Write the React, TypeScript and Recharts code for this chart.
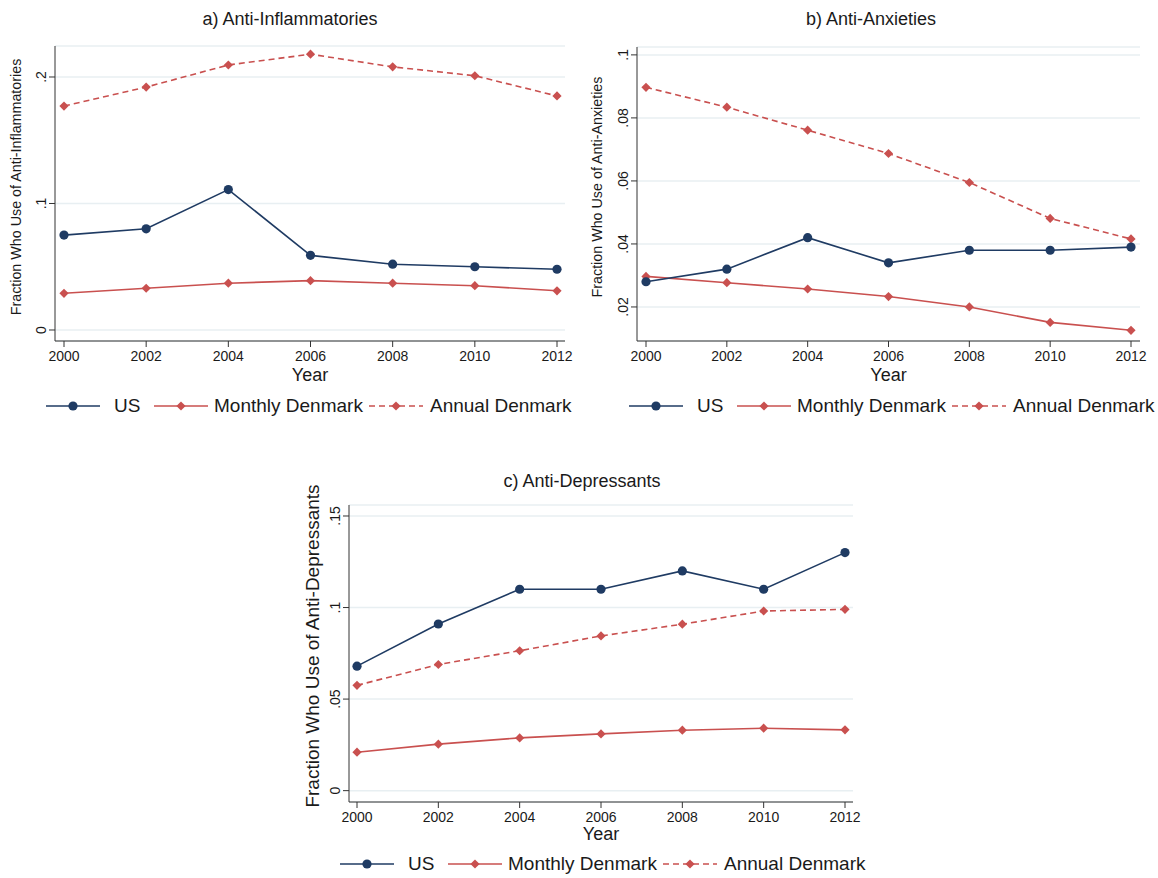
import React from "react";
import { CartesianGrid, Line, LineChart, XAxis, YAxis } from "recharts";

const years = [2000, 2002, 2004, 2006, 2008, 2010, 2012];
const seriesNames = ["US", "Monthly Denmark", "Annual Denmark"];

// a) anti-inflammatories
const inflamUS = [0.075, 0.08, 0.111, 0.059, 0.052, 0.05, 0.048];
const inflamMonthly = [0.029, 0.033, 0.037, 0.039, 0.037, 0.035, 0.031];
const inflamAnnual = [0.177, 0.192, 0.2095, 0.218, 0.208, 0.201, 0.185];

// b) anti-anxieties
const anxUS = [0.028, 0.032, 0.042, 0.034, 0.038, 0.038, 0.039];
const anxMonthly = [0.0297, 0.0277, 0.0257, 0.0233, 0.02, 0.0151, 0.0126];
const anxAnnual = [0.0897, 0.0834, 0.0761, 0.0687, 0.0595, 0.0481, 0.0416];

// c) anti-depressants
const depUS = [0.068, 0.091, 0.11, 0.11, 0.12, 0.11, 0.13];
const depMonthly = [0.021, 0.0254, 0.0288, 0.031, 0.033, 0.0341, 0.0332];
const depAnnual = [0.0575, 0.0689, 0.0764, 0.0845, 0.0909, 0.0981, 0.099];

const inflamTicks = [0, 0.1, 0.2];
const anxTicks = [0.02, 0.04, 0.06, 0.08, 0.1];
const depTicks = [0, 0.05, 0.1, 0.15];

const NAVY = "#1f3b63";
const RED = "#c9504f";
const FONT = "'Liberation Sans', Arial, sans-serif";
const TEXT = "#1a1a1a";

const makeRows = (us: number[], monthly: number[], annual: number[]) =>
  years.map((year, i) => ({ year, us: us[i], monthly: monthly[i], annual: annual[i] }));

const fmt = (v: number) => (v === 0 ? "0" : String(v).replace(/^0\./, "."));

const RotTick = ({ x, y, payload }: any) => (
  <text
    x={x}
    y={y}
    transform={`rotate(-90 ${x} ${y})`}
    textAnchor="middle"
    fontSize={14}
    fontFamily={FONT}
    fill={TEXT}
  >
    {fmt(payload.value)}
  </text>
);

const Diamond = ({ cx, cy, index }: any) => {
  if (cx == null || cy == null) return null;
  const s = 4.6;
  return (
    <path
      key={`dm-${index}`}
      d={`M${cx},${cy - s}L${cx + s},${cy}L${cx},${cy + s}L${cx - s},${cy}Z`}
      fill={RED}
    />
  );
};

const LegendRow = ({ left, top }: { left: number; top: number }) => {
  const keys = [0, 108, 323];
  const labels = [68, 168, 384];
  return (
    <div style={{ position: "absolute", left, top, height: 24, width: 540 }}>
      {seriesNames.map((name, i) => (
        <React.Fragment key={name}>
          <svg
            width={54}
            height={24}
            style={{ position: "absolute", left: keys[i], top: 0 }}
          >
            <line
              x1={0}
              x2={54}
              y1={12}
              y2={12}
              stroke={i === 0 ? NAVY : RED}
              strokeWidth={1.6}
              strokeDasharray={i === 2 ? "6 4" : undefined}
            />
            {i === 0 ? (
              <circle cx={27} cy={12} r={4.6} fill={NAVY} />
            ) : (
              <path d="M27,7.4L31.6,12L27,16.6L22.4,12Z" fill={RED} />
            )}
          </svg>
          <span
            style={{
              position: "absolute",
              left: labels[i],
              top: 0,
              lineHeight: "24px",
              fontSize: 19,
              fontFamily: FONT,
              color: TEXT,
              whiteSpace: "nowrap",
            }}
          >
            {name}
          </span>
        </React.Fragment>
      ))}
    </div>
  );
};

interface PanelProps {
  left: number;
  top: number;
  width: number;
  height: number;
  yAxisWidth: number;
  marginTop: number;
  marginRight: number;
  xAxisHeight: number;
  padLeft: number;
  padRight: number;
  domain: [number, number];
  ticks: number[];
  rows: { year: number; us: number; monthly: number; annual: number }[];
  title: string;
  titleX: number;
  titleY: number;
  yLabel: string;
  yLabelX: number;
  yLabelY: number;
  yLabelSize: number;
  yearY: number;
  legendLeft: number;
  legendTop: number;
}

const Panel = (p: PanelProps) => {
  const plotLeft = p.left + p.yAxisWidth;
  const plotRight = p.left + p.width - p.marginRight;
  return (
    <>
      <div
        style={{
          position: "absolute",
          left: p.titleX,
          top: p.titleY,
          transform: "translate(-50%, -50%)",
          fontSize: 18,
          fontFamily: FONT,
          color: TEXT,
          whiteSpace: "nowrap",
        }}
      >
        {p.title}
      </div>
      <div
        style={{
          position: "absolute",
          left: p.yLabelX,
          top: p.yLabelY,
          transform: "translate(-50%, -50%) rotate(-90deg)",
          fontSize: p.yLabelSize,
          fontFamily: FONT,
          color: TEXT,
          whiteSpace: "nowrap",
        }}
      >
        {p.yLabel}
      </div>
      <div
        style={{
          position: "absolute",
          left: (plotLeft + plotRight) / 2,
          top: p.yearY,
          transform: "translate(-50%, -50%)",
          fontSize: 18,
          fontFamily: FONT,
          color: TEXT,
        }}
      >
        Year
      </div>
      <div style={{ position: "absolute", left: p.left, top: p.top }}>
        <LineChart
          width={p.width}
          height={p.height}
          data={p.rows}
          margin={{ top: p.marginTop, right: p.marginRight, bottom: 0, left: 0 }}
        >
          <CartesianGrid
            vertical={false}
            stroke="#e8eff2"
            strokeWidth={1.5}
          />
          <XAxis
            dataKey="year"
            type="number"
            domain={[2000, 2012]}
            ticks={years}
            padding={{ left: p.padLeft, right: p.padRight }}
            height={p.xAxisHeight}
            tickSize={6}
            tickMargin={4}
            stroke="#333"
            tick={{ fontSize: 14, fontFamily: FONT, fill: TEXT }}
            interval={0}
          />
          <YAxis
            type="number"
            domain={p.domain}
            ticks={p.ticks}
            width={p.yAxisWidth}
            tickSize={6}
            tickMargin={3}
            stroke="#333"
            allowDataOverflow
            interval={0}
            tick={(t: any) => <RotTick {...t} />}
          />
          <Line
            dataKey="annual"
            name={seriesNames[2]}
            stroke={RED}
            strokeWidth={1.6}
            strokeDasharray="6 4"
            dot={(d: any) => <Diamond {...d} />}
            activeDot={false}
            isAnimationActive={false}
          />
          <Line
            dataKey="monthly"
            name={seriesNames[1]}
            stroke={RED}
            strokeWidth={1.6}
            dot={(d: any) => <Diamond {...d} />}
            activeDot={false}
            isAnimationActive={false}
          />
          <Line
            dataKey="us"
            name={seriesNames[0]}
            stroke={NAVY}
            strokeWidth={1.6}
            dot={{ r: 4.6, fill: NAVY, stroke: NAVY, strokeWidth: 0 }}
            activeDot={false}
            isAnimationActive={false}
          />
        </LineChart>
      </div>
      <LegendRow left={p.legendLeft} top={p.legendTop} />
    </>
  );
};

export default function App() {
  return (
    <div
      style={{
        position: "absolute",
        left: 0,
        top: 0,
        width: 1158,
        height: 878,
        background: "#fff",
        overflow: "hidden",
      }}
    >
      <Panel
        left={0}
        top={0}
        width={580}
        height={420}
        yAxisWidth={55}
        marginTop={46}
        marginRight={15}
        xAxisHeight={79}
        padLeft={9}
        padRight={8}
        domain={[-0.0087, 0.2245]}
        ticks={inflamTicks}
        rows={makeRows(inflamUS, inflamMonthly, inflamAnnual)}
        title="a) Anti-Inflammatories"
        titleX={290}
        titleY={19}
        yLabel="Fraction Who Use of Anti-Inflammatories"
        yLabelX={16}
        yLabelY={187}
        yLabelSize={14.3}
        yearY={375}
        legendLeft={46}
        legendTop={394}
      />
      <Panel
        left={580}
        top={0}
        width={578}
        height={420}
        yAxisWidth={57}
        marginTop={47}
        marginRight={18}
        xAxisHeight={79}
        padLeft={9}
        padRight={9}
        domain={[0.0092, 0.1025]}
        ticks={anxTicks}
        rows={makeRows(anxUS, anxMonthly, anxAnnual)}
        title="b) Anti-Anxieties"
        titleX={871}
        titleY={19}
        yLabel="Fraction Who Use of Anti-Anxieties"
        yLabelX={597}
        yLabelY={187}
        yLabelSize={14.3}
        yearY={375}
        legendLeft={629}
        legendTop={394}
      />
      <Panel
        left={290}
        top={460}
        width={580}
        height={418}
        yAxisWidth={59}
        marginTop={45}
        marginRight={17}
        xAxisHeight={76}
        padLeft={8}
        padRight={8}
        domain={[-0.0062, 0.156]}
        ticks={depTicks}
        rows={makeRows(depUS, depMonthly, depAnnual)}
        title="c) Anti-Depressants"
        titleX={582}
        titleY={481}
        yLabel="Fraction Who Use of Anti-Depressants"
        yLabelX={313}
        yLabelY={646}
        yLabelSize={19}
        yearY={834}
        legendLeft={340}
        legendTop={852}
      />
    </div>
  );
}
